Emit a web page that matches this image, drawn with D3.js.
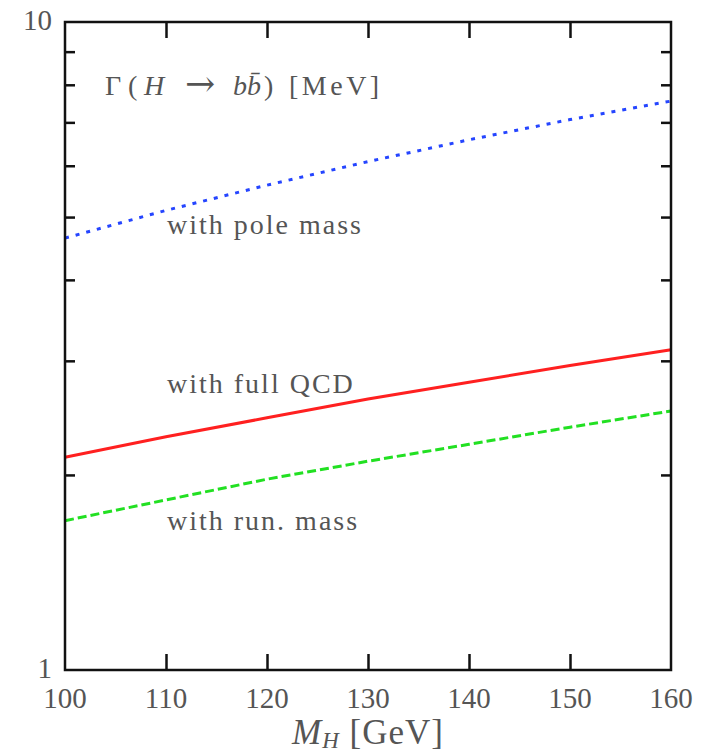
<!DOCTYPE html>
<html>
<head>
<meta charset="utf-8">
<script src="https://cdn.jsdelivr.net/npm/d3@7"></script>
<style>
  body { margin: 0; background: #fff; }
  text { font-family: "Liberation Serif", "DejaVu Serif", serif; fill: #555; }
</style>
</head>
<body>
<div class="chart"></div>
<script>
// Higgs mass [GeV]
const masses = [100, 110, 120, 130, 140, 150, 160]
// Gamma(H -> b bbar) [MeV]
const widthPole = [4.64, 5.12, 5.60, 6.09, 6.58, 7.07, 7.55]
const widthFullQCD = [2.13, 2.29, 2.45, 2.62, 2.78, 2.95, 3.12]
const widthRunMass = [1.70, 1.83, 1.97, 2.10, 2.23, 2.37, 2.51]

const xTicks = [100, 110, 120, 130, 140, 150, 160]
const yMinorTicks = [2, 3, 4, 5, 6, 7, 8, 9]
const yLabels = [1, 10]

const W = 709, H = 755
const margin = { top: 22, right: 38, bottom: 85, left: 65 }

const svg = d3.select('.chart')
    .append('svg')
    .attr('width', W)
    .attr('height', H)

const x = d3.scaleLinear()
    .domain([100, 160])
    .range([margin.left, W - margin.right])

const y = d3.scaleLog()
    .domain([1, 10])
    .range([H - margin.bottom, margin.top])

const series = [
    { name: 'pole', values: widthPole, color: '#2545ff', dash: '4,7' },
    { name: 'full', values: widthFullQCD, color: '#ff2020', dash: null },
    { name: 'run', values: widthRunMass, color: '#22e022', dash: '9,4' }
]

const line = d3.line()
    .x(d => x(d[0]))
    .y(d => y(d[1]))

svg.append('g')
    .selectAll('path')
    .data(series)
    .join('path')
    .attr('d', s => line(masses.map((m, i) => [m, s.values[i]])))
    .attr('fill', 'none')
    .attr('stroke', s => s.color)
    .attr('stroke-width', 3)
    .attr('stroke-dasharray', s => s.dash)

// axes: ticks pointing inside, on all four sides
const x0 = x.range()[0], x1 = x.range()[1]
const y0 = y.range()[0], y1 = y.range()[1]

const inner = xTicks.slice(1, -1)
svg.append('g')
    .attr('transform', `translate(0,${y0})`)
    .call(d3.axisBottom(x).tickValues(inner).tickSize(-16).tickFormat(''))
svg.append('g')
    .attr('transform', `translate(0,${y1})`)
    .call(d3.axisTop(x).tickValues(inner).tickSize(-16).tickFormat(''))
svg.append('g')
    .attr('transform', `translate(${x0},0)`)
    .call(d3.axisLeft(y).tickValues(yMinorTicks).tickSize(-10).tickFormat(''))
svg.append('g')
    .attr('transform', `translate(${x1},0)`)
    .call(d3.axisRight(y).tickValues(yMinorTicks).tickSize(-10).tickFormat(''))

svg.selectAll('.domain').remove()
svg.selectAll('.tick line')
    .attr('stroke', '#111')
    .attr('stroke-width', 2.5)

svg.append('rect')
    .attr('x', x0)
    .attr('y', y1)
    .attr('width', x1 - x0)
    .attr('height', y0 - y1)
    .attr('fill', 'none')
    .attr('stroke', '#111')
    .attr('stroke-width', 2.5)

// tick labels
svg.append('g')
    .selectAll('text')
    .data(xTicks)
    .join('text')
    .attr('x', d => x(d))
    .attr('y', y0 + 38)
    .attr('text-anchor', 'middle')
    .style('font-size', '29px')
    .text(d => d)

svg.append('g')
    .selectAll('text')
    .data(yLabels)
    .join('text')
    .attr('x', x0 - 13)
    .attr('y', d => y(d) + 8)
    .attr('text-anchor', 'end')
    .style('font-size', '29px')
    .text(d => d)

// x axis title
const xt = svg.append('text')
    .attr('x', (x0 + x1) / 2)
    .attr('y', H - 11)
    .attr('text-anchor', 'middle')
    .style('font-size', '35px')
    .style('letter-spacing', '1px')
xt.append('tspan').style('font-style', 'italic').text('M')
xt.append('tspan').style('font-style', 'italic').style('font-size', '23px').attr('dy', 4).text('H')
xt.append('tspan').attr('dy', -4).text(' [GeV]')

// title inside the frame
const tt = svg.append('text')
    .attr('y', 95)
    .style('font-size', '28px')
tt.append('tspan').attr('x', 105).text('Γ')
tt.append('tspan').attr('x', 128).text('(')
tt.append('tspan').attr('x', 144).style('font-style', 'italic').text('H')
tt.append('tspan').attr('x', 185).attr('dy', 1)
    .style('font-family', '"DejaVu Serif", serif').style('font-size', '36px').text('→')
tt.append('tspan').attr('x', 233).attr('dy', -1).style('font-style', 'italic').text('bb\u0304')
tt.append('tspan').attr('x', 264).text(')')
tt.append('tspan').attr('x', 289).style('letter-spacing', '3.5px').text('[MeV]')

// curve labels
const labels = [
    { text: 'with pole mass', yPos: 234 },
    { text: 'with full QCD', yPos: 393 },
    { text: 'with run. mass', yPos: 530 }
]
svg.append('g')
    .selectAll('text')
    .data(labels)
    .join('text')
    .attr('x', 167)
    .attr('y', d => d.yPos)
    .style('font-size', '28px')
    .style('letter-spacing', '2px')
    .text(d => d.text)
</script>
</body>
</html>
